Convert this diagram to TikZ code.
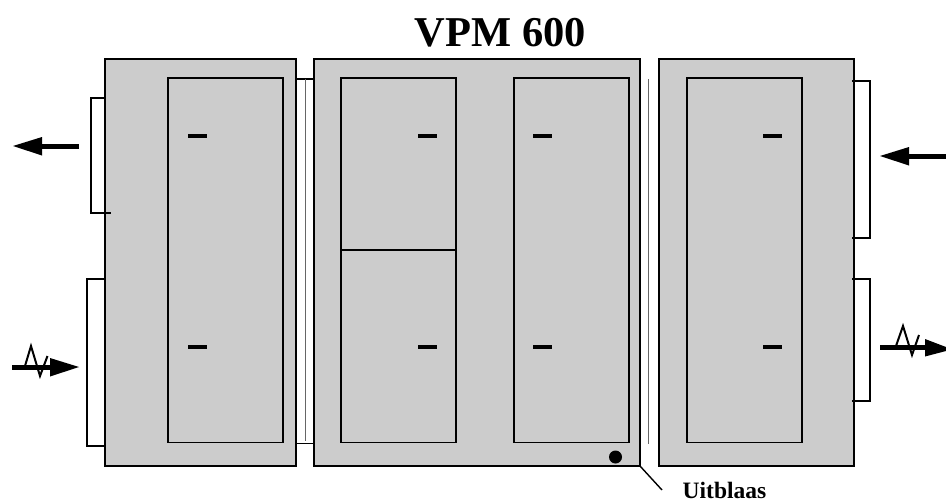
\documentclass[tikz,border=0pt]{standalone}
\usepackage{fontspec}
\setmainfont{Liberation Serif}
\definecolor{panelgray}{HTML}{CCCCCC}
\tikzset{
  x=1pt,y=-1pt,
  panel/.style={draw=black,fill=panelgray,line width=1.6pt,inner sep=0pt,outer sep=0pt,anchor=north west},
  inner box/.style={draw=black,line width=1.6pt,inner sep=0pt,outer sep=0pt,anchor=north west},
  edge line/.style={draw=black,line width=1.4pt},
  thin line/.style={draw=black!60,line width=1pt},
  dash bar/.style={fill=black,inner sep=0pt,outer sep=0pt,minimum width=19pt,minimum height=4pt},
  shaft/.style={line width=5pt,draw=black},
  head/.style={fill=black},
  zig/.style={draw=black,line width=2pt,line join=miter},
}
\begin{document}
\begin{tikzpicture}
\useasboundingbox (0,0) rectangle (946,501);
% outlets behind the panels
\draw[edge line] (105,98) -- (91,98) -- (91,213) -- (111,213);
\draw[edge line] (105,279) -- (87,279) -- (87,446) -- (105,446);
\draw[edge line] (852,81) -- (870,81) -- (870,238) -- (852,238);
\draw[edge line] (853,279) -- (870,279) -- (870,401) -- (853,401);
% connecting strip
\draw[edge line] (296,79) -- (314,79);
\draw[edge line] (296,443.5) -- (314,443.5);
\draw[thin line] (305,79) -- (305,441);
\draw[thin line] (648.5,79) -- (648.5,444);
% panels
\node[panel,minimum width=191pt,minimum height=407pt] (pl) at (105,59) {};
\node[panel,minimum width=326pt,minimum height=407pt] (pm) at (314,59) {};
\node[panel,minimum width=195pt,minimum height=407pt] (pr) at (659,59) {};
\draw[edge line] (105,213) -- (111,213);
\draw[edge line] (852,81) -- (856,81);
\draw[edge line] (852,238) -- (856,238);
\draw[edge line] (852,279) -- (856,279);
\draw[edge line] (852,401) -- (856,401);
% inner boxes
\node[inner box,minimum width=115pt,minimum height=364.5pt] (il) at (168,78) {};
\node[inner box,minimum width=115pt,minimum height=172pt] (imt) at (341,78) {};
\node[inner box,minimum width=115pt,minimum height=192.5pt] (imb) at (341,250) {};
\node[inner box,minimum width=115pt,minimum height=364.5pt] (imr) at (514,78) {};
\node[inner box,minimum width=115pt,minimum height=364.5pt] (ir) at (687,78) {};
% dashes
\node[dash bar] (d1) at (197.5,135.5) {};
\node[dash bar] (d2) at (427.5,135.5) {};
\node[dash bar] (d3) at (542.5,135.5) {};
\node[dash bar] (d4) at (772.5,135.5) {};
\node[dash bar] (d5) at (197.5,346.5) {};
\node[dash bar] (d6) at (427.5,346.5) {};
\node[dash bar] (d7) at (542.5,346.5) {};
\node[dash bar] (d8) at (772.5,346.5) {};
% arrows
\draw[shaft] (79,146) -- (40,146);
\fill[head] (13,146) -- (42,137) -- (42,155.5) -- cycle;
\draw[shaft] (946,156) -- (907,156);
\fill[head] (880,156) -- (909,147) -- (909,165.5) -- cycle;
\draw[shaft] (12,367) -- (52,367);
\fill[head] (79,367) -- (50,358) -- (50,376.5) -- cycle;
\draw[zig] (25,366) -- (31,346) -- (40,376) -- (47.5,356);
\draw[shaft] (880,347) -- (927,347);
\fill[head] (946,347) -- (925,339) -- (925,356.5) -- (946,351) -- cycle;
\draw[zig] (896,346) -- (903,326) -- (912,355) -- (919,335);
% outlet dot
\node[circle,fill=black,minimum size=13pt,inner sep=0pt] (dot) at (615.5,457) {};
% texts
\node[anchor=base,font=\fontsize{42.5pt}{44pt}\selectfont\bfseries,inner sep=0pt] (title) at (500.5,46.5) {VPM 600};
\node[anchor=base west,font=\fontsize{23.5pt}{25pt}\selectfont\bfseries,inner sep=0pt] (lab) at (682.5,498) {Uitblaas};
\coordinate (leadend) at (662,490);
\draw[edge line] (pm.south east) -- (leadend);
\end{tikzpicture}
\end{document}
